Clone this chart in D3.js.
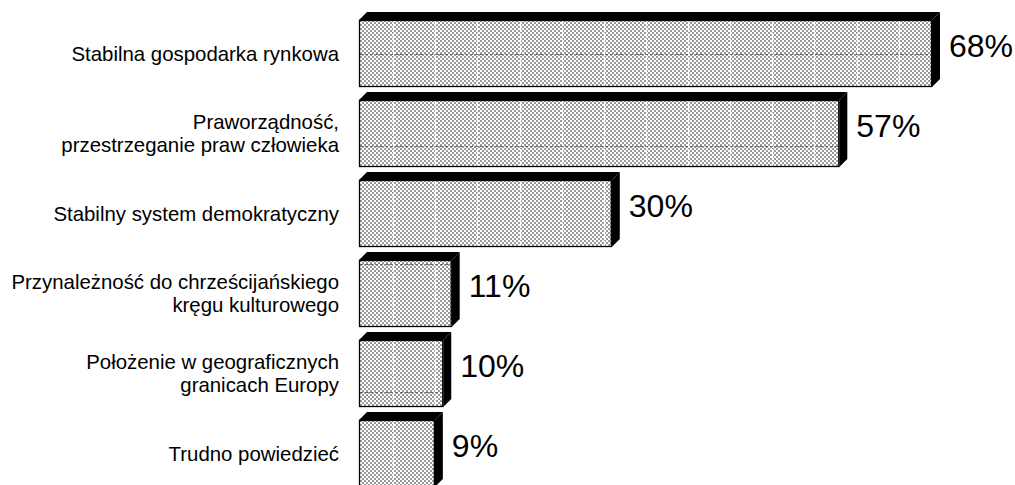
<!DOCTYPE html>
<html>
<head>
<meta charset="utf-8">
<script src="https://cdn.jsdelivr.net/npm/d3@7"></script>
<style>
  body { margin: 0; background: #fff; }
  text { font-family: "Liberation Sans", Arial, sans-serif; fill: #000; }
</style>
</head>
<body>
<div id="viz"></div>
<script>

// Chart data
var categories = [
    ["Stabilna gospodarka rynkowa"],
    ["Praworządność,", "przestrzeganie praw człowieka"],
    ["Stabilny system demokratyczny"],
    ["Przynależność do chrześcijańskiego", "kręgu kulturowego"],
    ["Położenie w geograficznych", "granicach Europy"],
    ["Trudno powiedzieć"]
];
var values = [68, 57, 30, 11, 10, 9];
var gridSteps = [5, 10, 15, 20, 25, 30, 35, 40, 45, 50, 55, 60, 65];

var width = 1015, height = 485;
var depth = 8;

var SVG = d3.select("#viz").append("svg")
        .attr("width", width)
        .attr("height", height);

// Checker pattern for the bar fronts
var pat = SVG.append("defs").append("pattern")
        .attr("id", "checker")
        .attr("width", 4)
        .attr("height", 4)
        .attr("patternUnits", "userSpaceOnUse");
pat.append("rect").attr("width", 4).attr("height", 4).attr("fill", "#fff");
pat.append("rect").attr("width", 2).attr("height", 2).attr("fill", "#9a9a9a");
pat.append("rect").attr("x", 2).attr("y", 2).attr("width", 2).attr("height", 2).attr("fill", "#9a9a9a");

var x = d3.scaleLinear()
        .domain([0, d3.max(values)])
        .range([359, 932]);

var idx = d3.range(values.length);
var y = d3.scaleBand()
        .domain(idx)
        .range([20, 487])
        .paddingInner(0.1625)
        .paddingOuter(0);

// back wall lines that show through some bars (as in the source chart)
var wallLines = {0: 0.5, 1: 0.68, 3: 0.06, 4: 0.78};

var bars = SVG.selectAll("g.bar")
        .data(idx)
        .enter().append("g")
        .attr("class", "bar");

bars.each(function(i) {
    var g = d3.select(this);
    var x0 = x(0), x1 = x(values[i]);
    var y0 = y(i), y1 = y(i) + y.bandwidth();

    // front face
    g.append("rect")
        .attr("x", x0)
        .attr("y", y0)
        .attr("width", x1 - x0)
        .attr("height", y1 - y0)
        .attr("fill", "url(#checker)");

    // white vertical gridlines seen through the front
    gridSteps.forEach(function(v) {
        var gx = Math.round(x(v) - depth) + 0.5;
        if (gx > x0 + 1 && gx < x1 - 1) {
            g.append("line")
                .attr("x1", gx).attr("x2", gx)
                .attr("y1", y0 + 1).attr("y2", y1 - 1)
                .attr("stroke", "#fff")
                .attr("stroke-width", 1.2)
                .attr("stroke-dasharray", "5,1");
        }
    });

    if (wallLines.hasOwnProperty(i)) {
        var hy = Math.round(y0 + wallLines[i] * (y1 - y0)) + 0.5;
        g.append("line")
            .attr("x1", x0 + 1).attr("x2", x1 - 1)
            .attr("y1", hy).attr("y2", hy)
            .attr("stroke", "#666")
            .attr("stroke-width", 1)
            .attr("stroke-dasharray", "3,2");
    }

    g.append("rect")
        .attr("x", x0 + 0.5)
        .attr("y", y0 + 0.5)
        .attr("width", x1 - x0 - 1)
        .attr("height", y1 - y0 - 1)
        .attr("fill", "none")
        .attr("stroke", "#000")
        .attr("stroke-width", 1.3);

    // top face
    g.append("polygon")
        .attr("points", [[x0, y0], [x0 + depth, y0 - depth],
                         [x1 + depth, y0 - depth], [x1, y0]].join(" "))
        .attr("fill", "#000");

    // side face
    g.append("polygon")
        .attr("points", [[x1, y0], [x1 + depth, y0 - depth],
                         [x1 + depth, y1 - depth], [x1, y1]].join(" "))
        .attr("fill", "#000");

    // value label
    g.append("text")
        .attr("x", x1 + depth + 9)
        .attr("y", y0 + 37)
        .attr("font-size", 32)
        .text(values[i] + "%");

    // category label
    var lines = categories[i];
    var cy = (y0 + y1) / 2;
    var lh = 23;
    var t = g.append("text")
        .attr("text-anchor", "end")
        .attr("font-size", 20.4);
    lines.forEach(function(s, k) {
        t.append("tspan")
            .attr("x", 339)
            .attr("y", cy + 7 + (k - (lines.length - 1) / 2) * lh)
            .text(s);
    });
});

</script>
</body>
</html>
